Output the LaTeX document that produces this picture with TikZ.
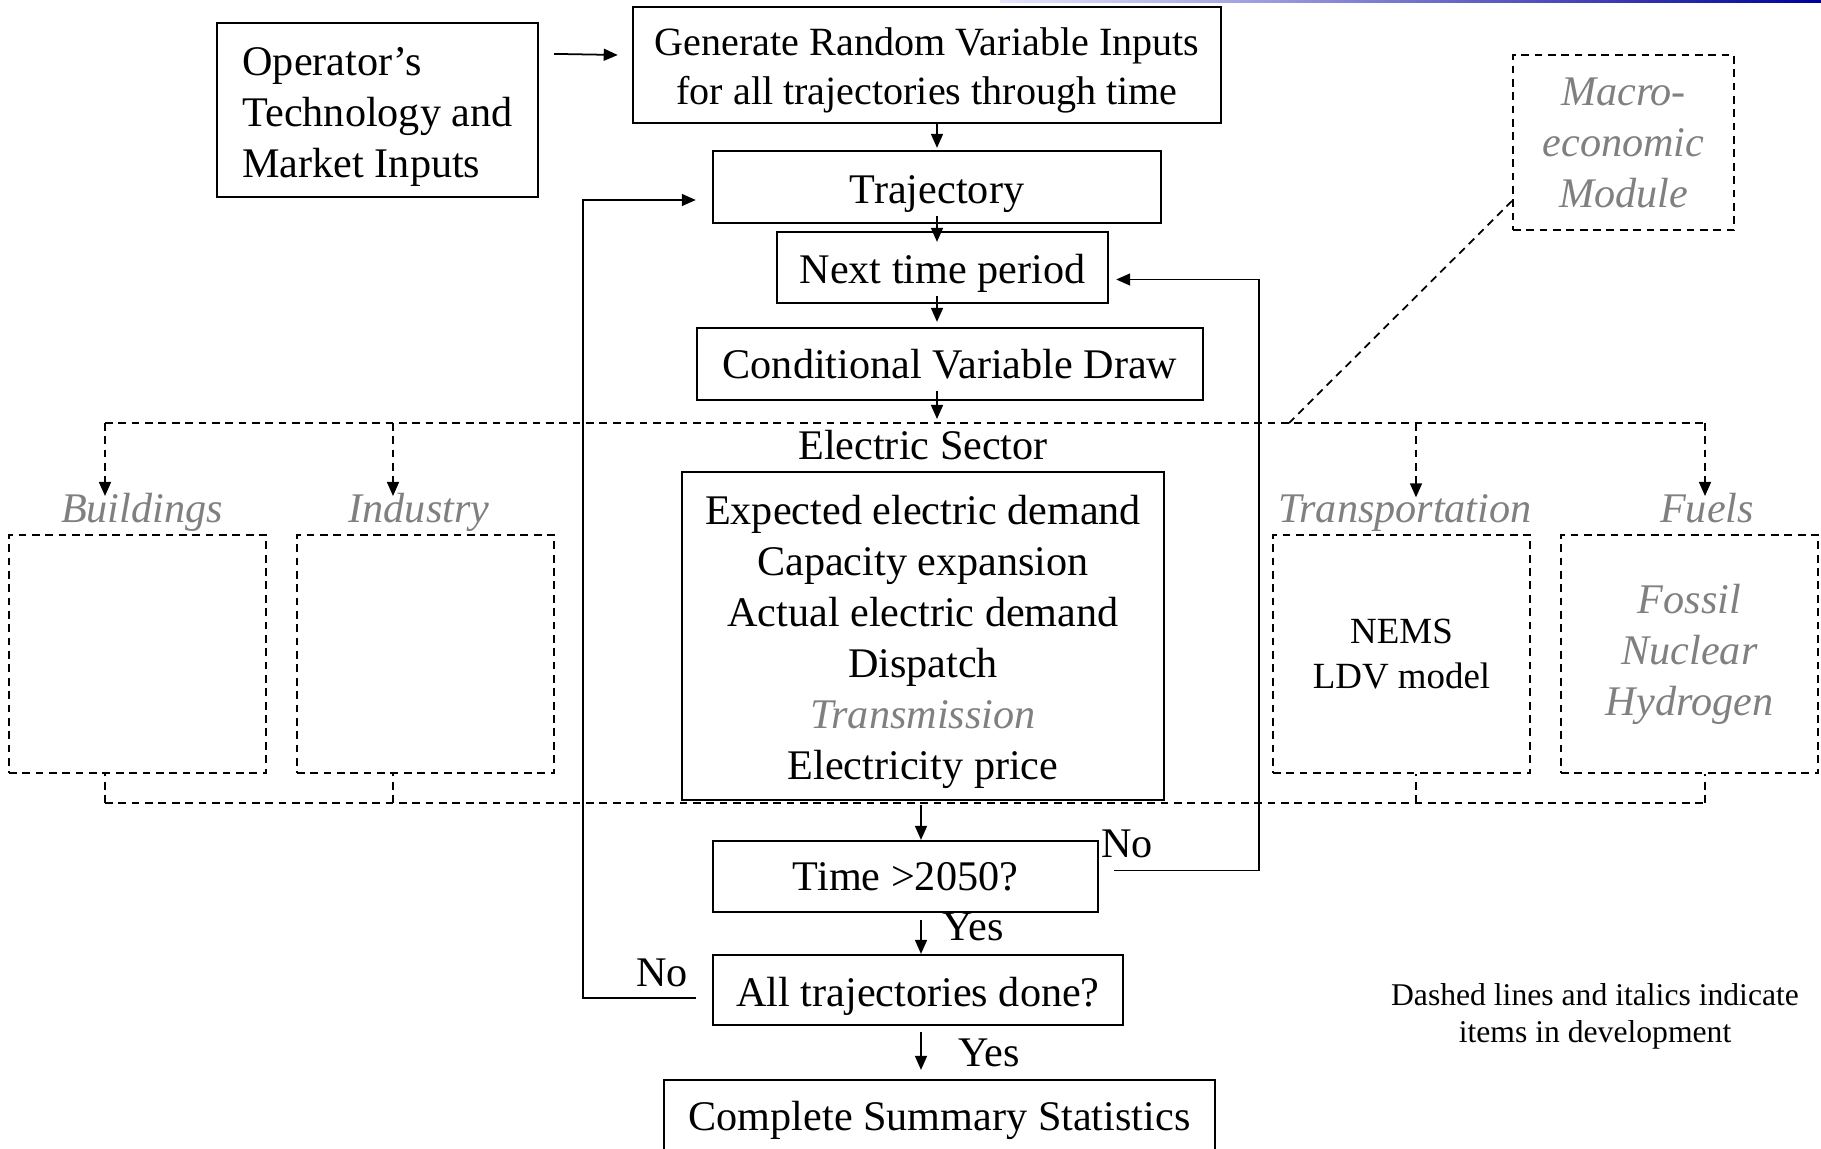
\documentclass[tikz,border=0pt]{standalone}
\usepackage{fontspec}
\setmainfont{Liberation Serif}
\usepackage{tikz}
\usetikzlibrary{arrows.meta, positioning, calc}

\begin{document}
\begin{tikzpicture}[x=0.01cm, y=-0.01cm,
    font=\fontsize{12}{14.5}\selectfont,
    box/.style={draw, line width=0.6pt, align=center, inner sep=1pt},
    low/.style={text height=11.6pt, text depth=2.4pt},
    dbox/.style={draw, line width=0.5pt, dash pattern=on 2.2pt off 1.6pt, align=center, inner sep=1pt},
    dev/.style={text=gray, font=\fontsize{12}{14.5}\selectfont\itshape},
    arr/.style={line width=0.5pt, -{Triangle[length=4pt, width=3.4pt]}},
    dln/.style={line width=0.5pt, dash pattern=on 2.2pt off 1.6pt},
    darr/.style={arr, dash pattern=on 2.2pt off 1.6pt}
  ]
  \useasboundingbox (0,0) rectangle (1821,1149);
  \clip (0,0) rectangle (1821,1149);
  % slide header rule
  \shade[left color=blue!10, right color=blue!60!black] (1000,0) rectangle (1821,2.5);

  % main loop
  \node[box, minimum width=3.21cm, minimum height=1.74cm, align=left, text height=41.2pt, text depth=2.6pt] (op) at (377.5,110) {Operator’s\\Technology and\\Market Inputs};
  \node[box, minimum width=5.88cm, minimum height=1.16cm, font=\fontsize{11.4}{13.9}\selectfont, text height=25.1pt, text depth=2.5pt] (gen) at (927,65) {Generate Random Variable Inputs\\for all trajectories through time};
  \node[box, low, minimum width=4.48cm, minimum height=0.72cm] (traj) at (937,187) {Trajectory};
  \node[box, low, minimum width=3.31cm, minimum height=0.71cm] (next) at (942.5,267.5) {Next time period};
  \node[box, minimum width=5.06cm, minimum height=0.72cm] (cond) at (950,364) {Conditional Variable Draw};
  \node (es) at (923,445) {Electric Sector};
  \node[box, minimum width=4.82cm, minimum height=3.28cm, text height=84.1pt, text depth=2.6pt] (elec) at (923,636) {Expected electric demand\\Capacity expansion\\Actual electric demand\\Dispatch\\{\color{gray}\itshape Transmission}\\Electricity price};
  \node[box, minimum width=3.85cm, minimum height=0.71cm] (time) at (905.5,876.5) {Time {>}2050?};
  \node[box, low, minimum width=4.10cm, minimum height=0.70cm] (alltraj) at (918,990) {All trajectories done?};
  \node[box, minimum width=5.51cm, minimum height=0.80cm] (summ) at (939.5,1120) {Complete Summary Statistics};

  % modules in development
  \node[dbox, dev, minimum width=2.21cm, minimum height=1.75cm] (macro) at (1623.5,142.5) {Macro-\\economic\\Module};
  \node[dbox, minimum width=2.57cm, minimum height=2.38cm] (bld) at (137.5,654) {};
  \node[dbox, minimum width=2.57cm, minimum height=2.38cm] (ind) at (425.5,654) {};
  \node[dbox, minimum width=2.57cm, minimum height=2.38cm, font=\fontsize{10.5}{13}\selectfont] (trans) at (1401.5,654) {NEMS\\LDV model};
  \node[dbox, dev, minimum width=2.57cm, minimum height=2.38cm] (fuel) at (1689.5,654) {Fossil\\Nuclear\\Hydrogen};
  \node[dev, anchor=base, inner sep=0pt] (bldlab) at (142,522) {Buildings};
  \node[dev, anchor=base, inner sep=0pt] (indlab) at (419,522) {Industry};
  \node[dev, anchor=base, inner sep=0pt] (translab) at (1405,522) {Transportation};
  \node[dev, anchor=base, inner sep=0pt] (fuellab) at (1707,522) {Fuels};

  % dashed links
  \coordinate (bustl) at (105,423);
  \coordinate (bustr) at (1705,423);
  \coordinate (busbl) at (105,803);
  \coordinate (busbr) at (1705,803);
  \coordinate (mbus) at (1289,423);
  \draw[dln] (bustl) -- (bustr);
  \draw[dln] (busbl) -- (busbr);
  \foreach \x/\m in {105/bld, 393/ind, 1416/trans, 1705/fuel} {
    \draw[darr] (\x,423) -- ($(\x,0 |- \m lab.north)+(0,4)$);
    \draw[dln] (\x,803) -- (\x,0 |- \m.south);
  }
  \draw[dln] ($(macro.south west)+(0,-30)$) -- (mbus);

  % solid arrows
  \draw[arr] ($(op.north east)+(15,32)$) -- ($(gen.west)+(-14,-10)$);
  \draw[arr] (937,0 |- gen.south) -- ($(937,0 |- traj.north)+(0,-2)$);
  \draw[arr] ($(937,0 |- traj.south)+(0,-8)$) -- ($(937,0 |- next.north)+(0,11)$);
  \draw[arr] ($(937,0 |- next.south)+(0,-8)$) -- ($(937,0 |- cond.north)+(0,-5)$);
  \draw[arr] ($(937,0 |- cond.south)+(0,-10)$) -- ($(937,0 |- bustl)+(0,-4)$);
  \draw[arr] ($(921,0 |- elec.south)+(0,4)$) -- (921,0 |- time.north);
  \draw[arr] ($(921,0 |- time.south)+(0,7)$) -- (921,0 |- alltraj.north);
  \draw[arr] ($(921,0 |- alltraj.south)+(0,6)$) -- ($(921,0 |- summ.north)+(0,-9)$);

  % loops back
  \draw[arr] ($(time.east)+(15,-6)$) -- ++(145,0) |- ($(next.east)+(7,12)$);
  \draw[arr] ($(alltraj.west)+(-16,8)$) -- ++(-113,0) |- ($(traj.west)+(-16,13)$);
  \node (no1) at (1127,844) {No};
  \node (yes1) at (973,927) {Yes};
  \node (no2) at (662,973) {No};
  \node (yes2) at (989,1053) {Yes};

  % note
  \node[align=center, font=\fontsize{9}{10.5}\selectfont] (note) at (1595,1016) {Dashed lines and italics indicate\\items in development};
\end{tikzpicture}
\end{document}
